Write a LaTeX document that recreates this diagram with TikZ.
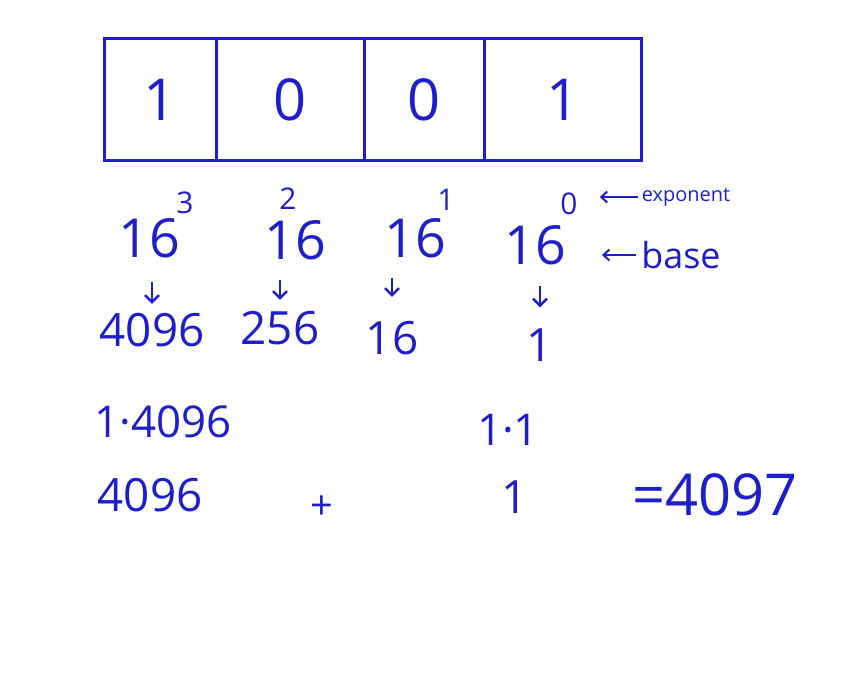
\documentclass[tikz,border=0pt]{standalone}
\usepackage{fontspec}
\setmainfont{Open Sans}
\usetikzlibrary{positioning,arrows.meta}
\definecolor{marker}{RGB}{30,30,205}

\begin{document}
\begin{tikzpicture}[
        x=1bp, y=-1bp,
        cell/.style={
            draw=marker,
            line width=3bp,
            anchor=north west,
            minimum height=122bp,
            inner sep=0pt,
            text=marker,
            font=\fontsize{58}{58}\selectfont
        },
        power/.style={text=marker, inner sep=0pt, font=\fontsize{54}{54}\selectfont},
        expo/.style={text=marker, inner sep=0pt, font=\fontsize{30}{30}\selectfont},
        value/.style={text=marker, inner sep=0pt, font=\fontsize{46}{46}\selectfont},
        note/.style={text=marker, inner sep=0pt},
        pointer/.style={draw=marker, line width=2bp, -{Straight Barb[length=6bp,width=11bp]}},
        downarrow/.style={draw=marker, line width=2.5bp, -{Straight Barb[length=7bp,width=14bp]}}
    ]
        \useasboundingbox (0,0) rectangle (860,675);

        % binary cells
        \node[cell, minimum width=112bp] (c1) at (103,37) {1};
        \node[cell, minimum width=148bp] (c2) at (215,37) {0};
        \node[cell, minimum width=120bp] (c3) at (363,37) {0};
        \node[cell, minimum width=157bp] (c4) at (483,37) {1};

        % place values
        \node[power] (p3) at (149,238) {16};
        \node[power] (p2) at (295,240) {16};
        \node[power] (p1) at (415,238) {16};
        \node[power] (p0) at (535,245) {16};
        \node[expo] (e3) at (185,203) {3};
        \node[expo] (e2) at (288,199) {2};
        \node[expo] (e1) at (446,200) {1};
        \node[expo] (e0) at (569,204) {0};

        \node[note, font=\fontsize{20}{20}\selectfont] (explabel) at (686,197) {exponent};
        \node[note, font=\fontsize{36}{36}\selectfont] (baselabel) at (681,255) {base};
        \draw[pointer, shorten <=4bp, shorten >=22bp] (explabel.west) -- (explabel.west -| e0.east);
        \draw[pointer, shorten <=5bp, shorten >=36bp] (baselabel.west) -- (baselabel.west -| p0.east);

        \node[value] (v3) at (152,330) {4096};
        \node[value] (v2) at (280,328) {256};
        \node[value] (v1) at (392,338) {16};
        \node[value] (v0) at (540,345) {1};

        \draw[downarrow, shorten <=24bp, shorten >=9bp] (v3.north |- p3.south) -- (v3.north);
        \draw[downarrow, shorten <=20bp, shorten >=11bp] (v2.north |- p2.south) -- (v2.north);
        \draw[downarrow, shorten <=20bp, shorten >=24bp] (v1.north |- p1.south) -- (v1.north);
        \draw[downarrow, shorten <=21bp, shorten >=21bp] (v0.north |- p0.south) -- (v0.north);

        % products and sum
        \node[value, font=\fontsize{44}{44}\selectfont] (m3) at (163,422) {1·4096};
        \node[value, font=\fontsize{44}{44}\selectfont] (m0) at (508,430) {1·1};

        \node[value] (s3) at (150,495) {4096};
        \node[expo, font=\fontsize{40}{40}\selectfont] (plus) at (322,508) {+};
        \node[value] (s0) at (515,497) {1};
        \node[value, font=\fontsize{58}{58}\selectfont] (total) at (715,495) {=4097};
\end{tikzpicture}
\end{document}
